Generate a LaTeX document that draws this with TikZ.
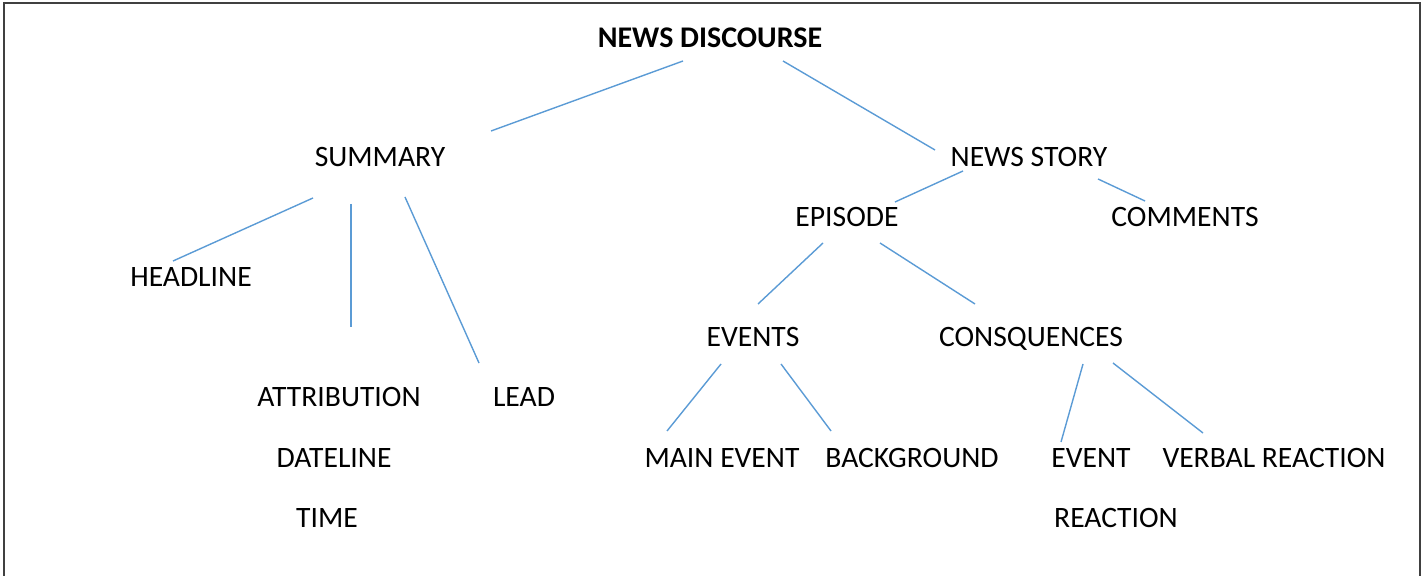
\documentclass[tikz,border=0pt]{standalone}
\usepackage{fontspec}
\setmainfont{Carlito}
\definecolor{linkblue}{HTML}{5B9BD5}
\definecolor{frame}{HTML}{404040}
\tikzset{
  lbl/.style={anchor=base, inner sep=0pt, font=\fontsize{14.8}{17}\selectfont},
  title/.style={lbl, font=\fontsize{15}{17}\selectfont\bfseries},
  link/.style={draw=linkblue, line width=0.7pt},
}
\begin{document}
\begin{tikzpicture}[x=0.5pt,y=-0.5pt]
\useasboundingbox (0,0) rectangle (1427,576);
\draw[frame, line width=1pt] (4,3) rectangle (1420,580);

% nodes (x centre, baseline)
\node[title] (nd)   at (710,48)  {NEWS DISCOURSE};
\node[lbl] (sum)    at (380,167) {SUMMARY};
\node[lbl] (ns)     at (1029,167) {NEWS STORY};
\node[lbl] (ep)     at (847,227) {EPISODE};
\node[lbl] (com)    at (1185,227) {COMMENTS};
\node[lbl] (head)   at (191,287) {HEADLINE};
\node[lbl] (evs)    at (753,347) {EVENTS};
\node[lbl] (cons)   at (1031,347) {CONSQUENCES};
\node[lbl] (attr)   at (339,407) {ATTRIBUTION};
\node[lbl] (lead)   at (524,407) {LEAD};
\node[lbl] (main)   at (722,467) {MAIN EVENT};
\node[lbl] (bg)     at (912,467) {BACKGROUND};
\node[lbl] (ev)     at (1091,467) {EVENT};
\node[lbl] (vr)     at (1274,467) {VERBAL REACTION};
\node[lbl] (date)   at (334,467) {DATELINE};
\node[lbl] (time)   at (327,527) {TIME};
\node[lbl] (react)  at (1116,527) {REACTION};

% connector end points
\coordinate (nd-l)   at (683,61);
\coordinate (nd-r)   at (783,61);
\coordinate (sum-t)  at (491,131);
\coordinate (ns-t)   at (935,150);
\coordinate (sum-bl) at (313,198);
\coordinate (sum-bm) at (351,204);
\coordinate (sum-br) at (405,197);
\coordinate (head-t) at (173,261);
\coordinate (attr-t) at (351,327);
\coordinate (lead-t) at (479,363);
\coordinate (ns-bl)  at (963,171);
\coordinate (ns-br)  at (1098,179);
\coordinate (ep-t)   at (895,202);
\coordinate (com-t)  at (1145,201);
\coordinate (ep-bl)  at (823,243);
\coordinate (ep-br)  at (880,243);
\coordinate (evs-t)  at (758,304);
\coordinate (cons-t) at (975,304);
\coordinate (evs-bl) at (721,364);
\coordinate (evs-br) at (781,364);
\coordinate (main-t) at (667,431);
\coordinate (bg-t)   at (831,431);
\coordinate (cons-bl) at (1083,364);
\coordinate (cons-br) at (1113,363);
\coordinate (ev-t)   at (1061,442);
\coordinate (vr-t)   at (1203,433);

\draw[link] (nd-l) -- (sum-t);
\draw[link] (nd-r) -- (ns-t);
\draw[link] (sum-bl) -- (head-t);
\draw[link] (sum-bm) -- (attr-t);
\draw[link] (sum-br) -- (lead-t);
\draw[link] (ns-bl) -- (ep-t);
\draw[link] (ns-br) -- (com-t);
\draw[link] (ep-bl) -- (evs-t);
\draw[link] (ep-br) -- (cons-t);
\draw[link] (evs-bl) -- (main-t);
\draw[link] (evs-br) -- (bg-t);
\draw[link] (cons-bl) -- (ev-t);
\draw[link] (cons-br) -- (vr-t);
\end{tikzpicture}
\end{document}
